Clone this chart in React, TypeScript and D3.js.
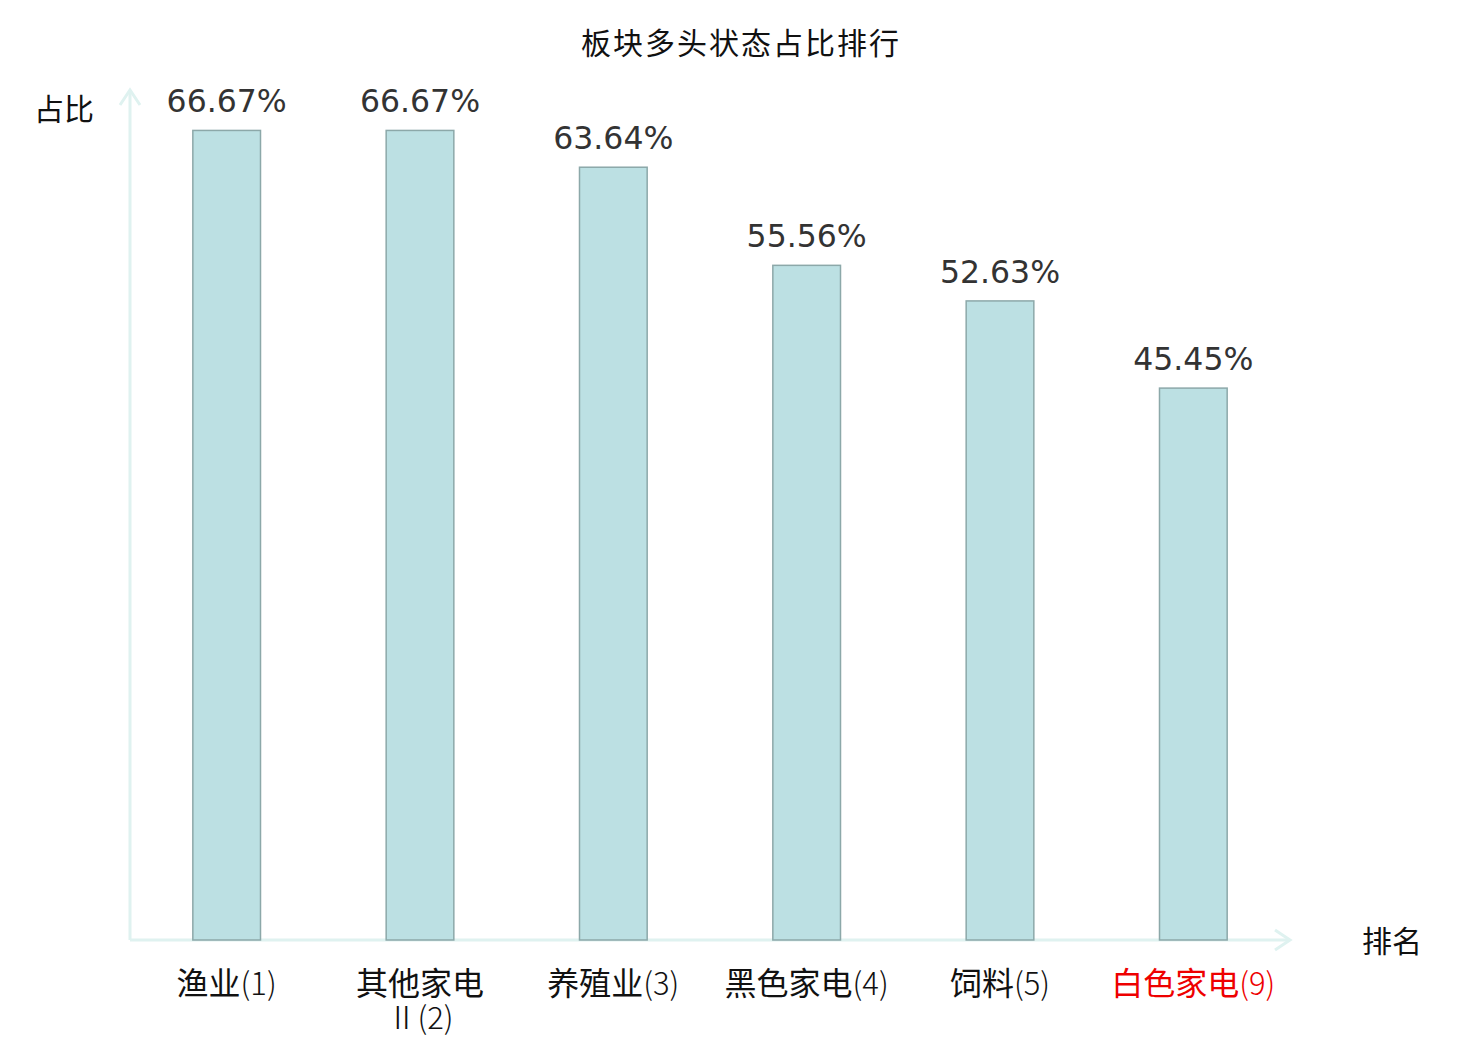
import * as d3 from "d3";
import React from "react";

// chart data
const categories = ["渔业", "其他家电Ⅱ", "养殖业", "黑色家电", "饲料", "白色家电"];
const ranks = [1, 2, 3, 4, 5, 9];
const ratios = [66.67, 66.67, 63.64, 55.56, 52.63, 45.45];
const highlight = "白色家电";

const width = 1464;
const height = 1040;
const margin = { top: 90, right: 174, bottom: 100, left: 130 };

const cjk = "'Noto Sans CJK SC', 'DejaVu Sans', sans-serif";

const App: React.FC = () => {
  const x = d3
    .scaleBand<string>()
    .domain(categories)
    .range([margin.left, width - margin.right])
    .paddingInner(0.65)
    .paddingOuter(0.325);

  const y = d3
    .scaleLinear()
    .domain([0, 70])
    .range([height - margin.bottom, margin.top]);

  const axisColor = "#dff2f0";
  const x0 = margin.left;
  const y0 = y(0);
  const xEnd = width - margin.right;
  const yEnd = margin.top;

  // split long labels: 4 CJK chars per line, latin part drawn thinner
  const lines = (name: string, rank: number) => {
    const head = name.slice(0, 4);
    const rest = name.slice(4);
    if (!rest) return [[head, `(${rank})`]];
    return [[head, ""], ["", `${rest}(${rank})`]];
  };

  return (
    <svg width={width} height={height} style={{ display: "block", margin: "-8px 0 0 -8px" }}>
      <rect width={width} height={height} fill="#ffffff" />

      {/* title */}
      <text
        x={741}
        y={54}
        textAnchor="middle"
        fontFamily={cjk}
        fontSize={30}
        letterSpacing={2}
        fill="#111"
      >
        板块多头状态占比排行
      </text>

      {/* axes */}
      <g stroke={axisColor} strokeWidth={3} fill="none">
        <line x1={x0} y1={y0} x2={xEnd} y2={y0} />
        <line x1={x0} y1={y0} x2={x0} y2={yEnd} />
        <polyline points={`${xEnd - 15},${y0 - 10} ${xEnd},${y0} ${xEnd - 15},${y0 + 10}`} />
        <polyline points={`${x0 - 10},${yEnd + 15} ${x0},${yEnd} ${x0 + 10},${yEnd + 15}`} />
      </g>
      <text x={34} y={120} fontFamily={cjk} fontSize={30} fill="#111">
        占比
      </text>
      <text x={1362} y={952} fontFamily={cjk} fontSize={30} fill="#111">
        排名
      </text>

      {/* bars */}
      {categories.map((c, i) => {
        const cx = x(c)! + x.bandwidth() / 2;
        return (
          <g key={c}>
            <rect
              x={x(c)}
              y={y(ratios[i])}
              width={x.bandwidth()}
              height={y0 - y(ratios[i])}
              fill="#bce0e3"
              stroke="#8ca8a9"
              strokeWidth={1.5}
            />
            <text
              x={cx}
              y={y(ratios[i]) - 18}
              textAnchor="middle"
              fontFamily="'DejaVu Sans', sans-serif"
              fontSize={31.5}
              fill="#333"
            >
              {ratios[i].toFixed(2)}%
            </text>
            {lines(c, ranks[i]).map(([cn, lat], k) => (
              <text
                key={k}
                x={cx}
                y={y0 + 55 + k * 34}
                textAnchor="middle"
                fontFamily={cjk}
                fontSize={k === 0 ? 32 : 29}
                fill={c === highlight ? "#ee0000" : "#111"}
              >
                {cn && <tspan>{cn}</tspan>}
                {lat && <tspan fontWeight={300} fontSize={31}>{lat}</tspan>}
              </text>
            ))}
          </g>
        );
      })}
    </svg>
  );
};

export default App;
